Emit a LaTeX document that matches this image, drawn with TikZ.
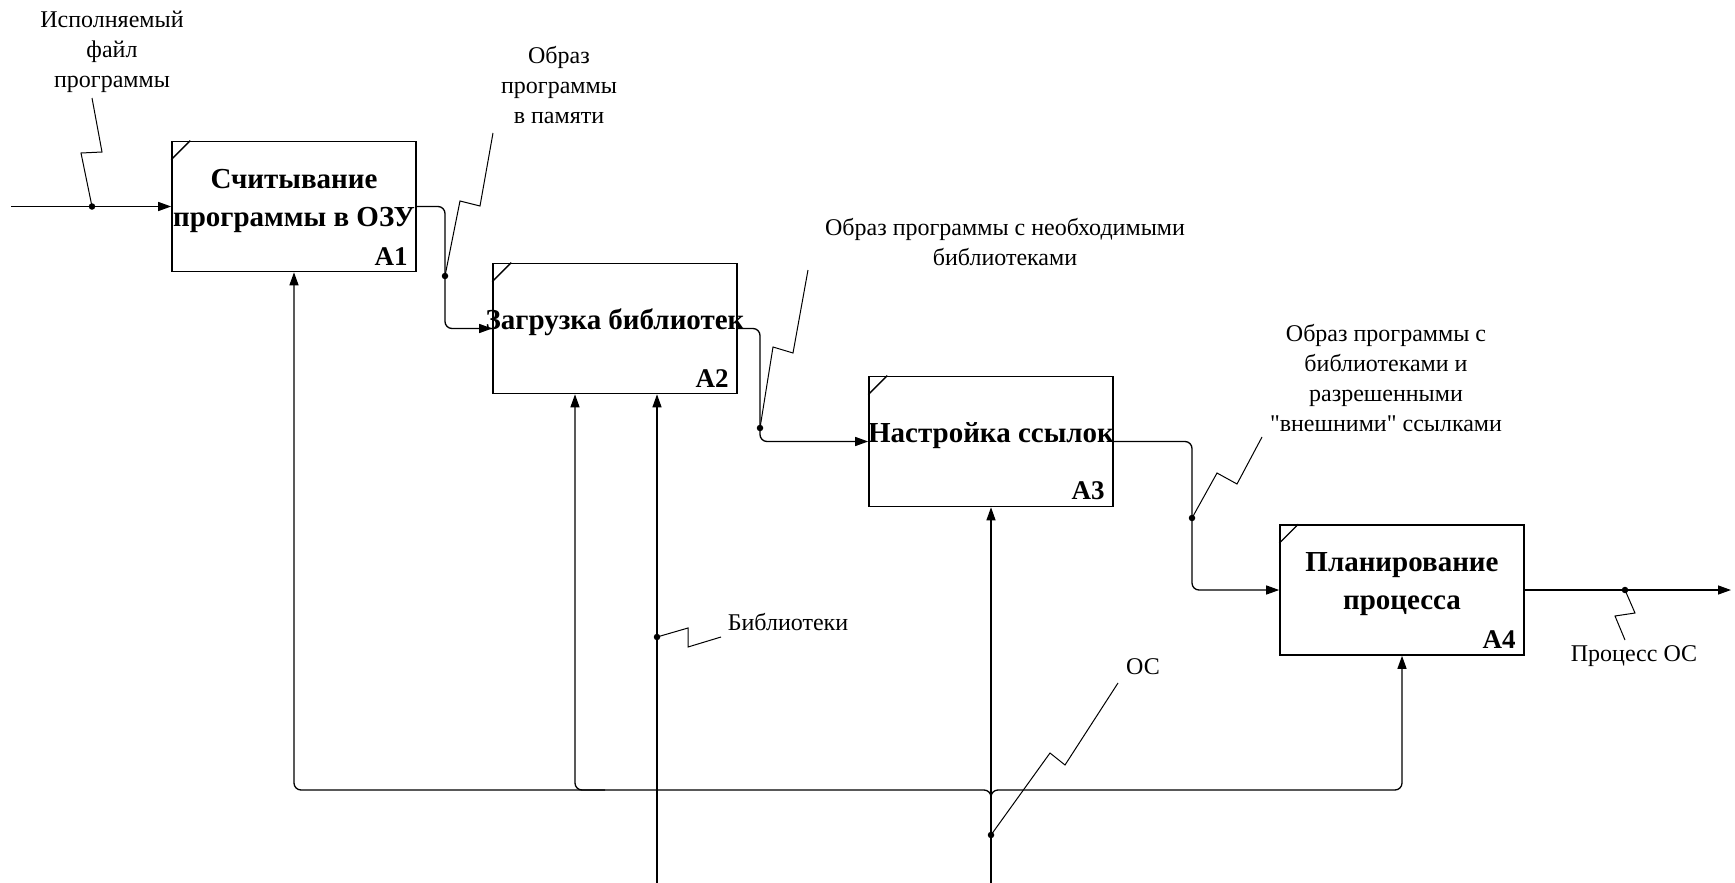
\documentclass[tikz,border=0pt]{standalone}
\usepackage{fontspec}
\setmainfont{Liberation Serif}[Ligatures=TeXOff]
\usetikzlibrary{arrows.meta,calc}
\newcommand\lblsize{\fontsize{24}{30}\selectfont}
\newcommand\ttlsize{\fontsize{29}{38}\selectfont\bfseries}
\begin{document}
\begin{tikzpicture}[x=1pt,y=-1pt,
  fbox/.style={draw, line width=1.6pt, minimum width=244pt, minimum height=130pt, inner sep=0pt},
  ttl/.style={font=\ttlsize, align=center, inner sep=0pt},
  idl/.style={font=\fontsize{27}{30}\selectfont\bfseries, inner sep=0pt, anchor=south east},
  lbl/.style={font=\lblsize, align=center, inner sep=0pt},
  arr/.style={line width=1.3pt, -{Triangle[length=13pt,width=9pt]}, rounded corners=7pt},
  sq/.style={line width=1pt},
  jdot/.style={circle, fill, inner sep=0pt, minimum size=6.5pt},
  tick/.style={line width=1.3pt},
]
\useasboundingbox (0,0) rectangle (1735,883);
% boxes
\node[fbox] (A1) at (294,206.5) {};
\node[fbox] (A2) at (615,328.5) {};
\node[fbox] (A3) at (991,441.5) {};
\node[fbox] (A4) at (1402,590) {};
\foreach \b/\t/\i in {A1/{Считывание\\программы в ОЗУ}/A1, A2/{Загрузка библиотек}/A2, A3/{Настройка ссылок}/A3, A4/{Планирование\\процесса}/A4}{
  \node[ttl] at ([yshift=6pt]\b.center) {\t};
  \node[idl] at ([xshift=-9pt,yshift=7pt]\b.south east) {\i};
  \draw[tick] ([yshift=-19pt]\b.north west) -- ([xshift=19pt]\b.north west);
}
% labels
\node[lbl] (L1) at (112,52) {Исполняемый\\файл\\программы};
\node[lbl] (L2) at (559,85) {Образ\\программы\\в памяти};
\node[lbl] (L3) at (1005,242) {Образ программы с необходимыми\\библиотеками};
\node[lbl] (L4) at (1386,378) {Образ программы с\\библиотеками и\\разрешенными\\"внешними" ссылками};
\node[lbl] (L5) at (1634,656) {Процесс ОС};
\node[lbl] (L6) at (788,622) {Библиотеки};
\node[lbl] (L7) at (1143,667) {ОС};
% coordinates
\coordinate (in0) at (11,206.5);
\coordinate (out0) at (1731,590);
\coordinate (b1) at (445,0);
\coordinate (b2) at (760,0);
\coordinate (b3) at (1192,0);
\coordinate (bus) at (991,790);
\coordinate (c2) at (575,790);
\coordinate (lib0) at (657,883);
\coordinate (os0) at (991,883);
% flows
\draw[arr] (in0) -- (A1.west);
\draw[arr] (A1.east) -| (b1 |- A2.west) -- (A2.west);
\draw[arr] (A2.east) -| (b2 |- A3.west) -- (A3.west);
\draw[arr] (A3.east) -| (b3 |- A4.west) -- (A4.west);
\draw[arr] (A4.east) -- (out0);
\draw[arr] (os0) -- (A3.south);
\draw[arr] ($(bus)+(0,25)$) -- (bus) -| (A1.south);
\draw[arr] ($(bus)+(0,25)$) -- (bus) -| (A4.south);
\draw[arr] ($(c2)+(30,0)$) -- (c2) -- (c2 |- A2.south);
\draw[arr] (lib0) -- (lib0 |- A2.south);
% dots and squiggles
\node[jdot] (d1) at (92,206.5) {};
\draw[sq] (d1.center) -- (81,153) -- (102,152) -- (92,98);
\node[jdot] (d2) at (445,276) {};
\draw[sq] (d2.center) -- (460,201) -- (480,206) -- (493,133);
\node[jdot] (d3) at (760,428) {};
\draw[sq] (d3.center) -- (773,347) -- (793,353) -- (808,270);
\node[jdot] (d4) at (1192,518) {};
\draw[sq] (d4.center) -- (1217,473) -- (1237,484) -- (1262,437);
\node[jdot] (d5) at (1625,590) {};
\draw[sq] (d5.center) -- (1635,613) -- (1615,616) -- (1625,640);
\node[jdot] (d6) at (657,637) {};
\draw[sq] (d6.center) -- (688,628) -- (688,647) -- (721,637);
\node[jdot] (d7) at (991,835) {};
\draw[sq] (d7.center) -- (1050,753) -- (1065,765) -- (1118,683);
\end{tikzpicture}
\end{document}
